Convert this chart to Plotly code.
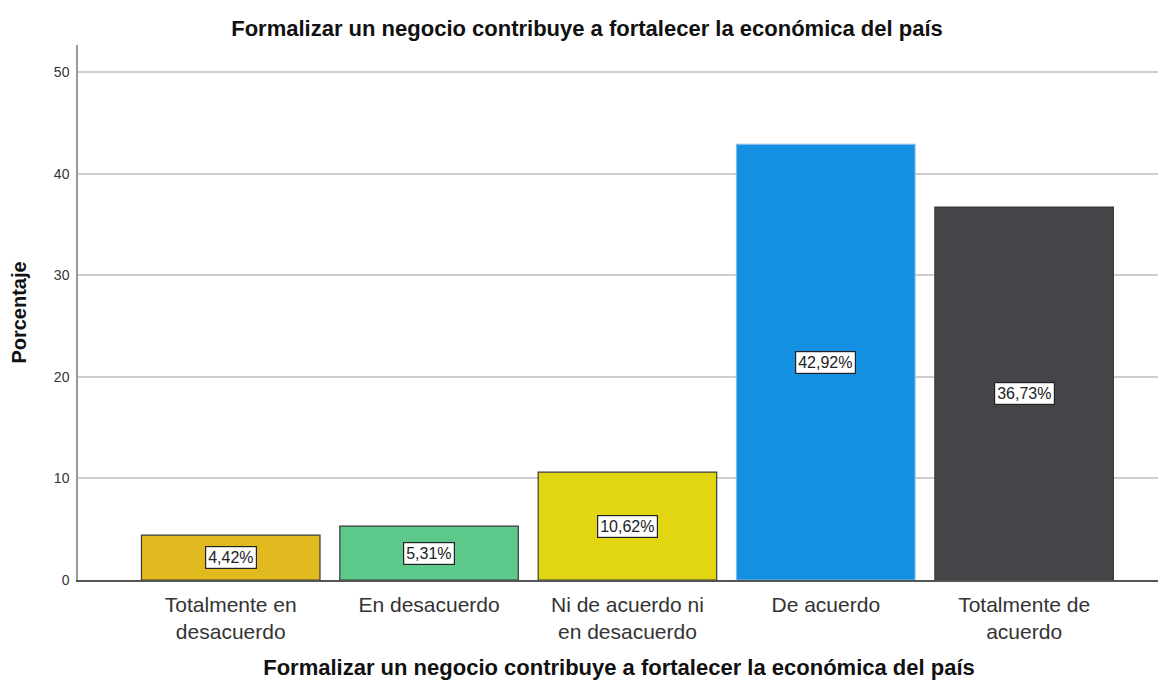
import plotly.graph_objects as go

categorias = ["Totalmente en<br>desacuerdo", "En desacuerdo", "Ni de acuerdo ni<br>en desacuerdo",
              "De acuerdo", "Totalmente de<br>acuerdo"]
porcentajes = [4.42, 5.31, 10.62, 42.92, 36.73]
etiquetas = ["4,42%", "5,31%", "10,62%", "42,92%", "36,73%"]
colores = ["#E0BA1E", "#5CC98A", "#E2D512", "#1490E3", "#444548"]
bordes = ["#3a3a3a", "#3a3a3a", "#3a3a3a", "#7fb8e6", "#3a3a3a"]

titulo = "Formalizar un negocio contribuye a fortalecer la económica del país"

fig = go.Figure()
fig.add_trace(go.Bar(x=list(range(len(categorias))), y=porcentajes,
                     marker=dict(color=colores, line=dict(color=bordes, width=1.2)),
                     hoverinfo="y", showlegend=False))

# etiquetas en caja blanca a media altura de cada barra
for i, (v, t) in enumerate(zip(porcentajes, etiquetas)):
    fig.add_annotation(x=i, y=v / 2, text=t, showarrow=False,
                       font=dict(family="Liberation Sans", size=16, color="#222"),
                       bgcolor="white", bordercolor="#222", borderwidth=1.2, borderpad=2)

# la página html tiene 8px de margen en el body
fig.update_layout(
    width=1158, height=673, template=None,
    paper_bgcolor="white", plot_bgcolor="white",
    margin=dict(l=70, r=6, t=37, b=101, autoexpand=False),
    bargap=0.1,
    font=dict(family="Liberation Sans", color="#222"),
    title=dict(text="<b>" + titulo + "</b>", x=0.5, xanchor="center", y=0.970, yanchor="middle",
               font=dict(size=22, color="#111")),
)
fig.update_xaxes(range=[-0.77, 4.685], tickvals=list(range(len(categorias))), ticktext=categorias,
                 tickfont=dict(size=21, color="#333"), showgrid=False, automargin=False,
                 showline=True, linecolor="#555", linewidth=1.5, ticks="", ticklabelstandoff=5,
                 title=dict(text="<b>" + titulo + "</b>", font=dict(size=22, color="#111"), standoff=17))
fig.update_yaxes(range=[0, 52.7], tickvals=[0, 10, 20, 30, 40, 50], automargin=False,
                 tickfont=dict(size=14, color="#333"), showgrid=True, gridcolor="#cfcfcf", gridwidth=1.5,
                 showline=True, linecolor="#999", linewidth=1.5, ticks="", zeroline=False,
                 ticklabelstandoff=4,
                 title=dict(text="<b>Porcentaje</b>", font=dict(size=20, color="#111"), standoff=27))

fig.write_html("out.html")
